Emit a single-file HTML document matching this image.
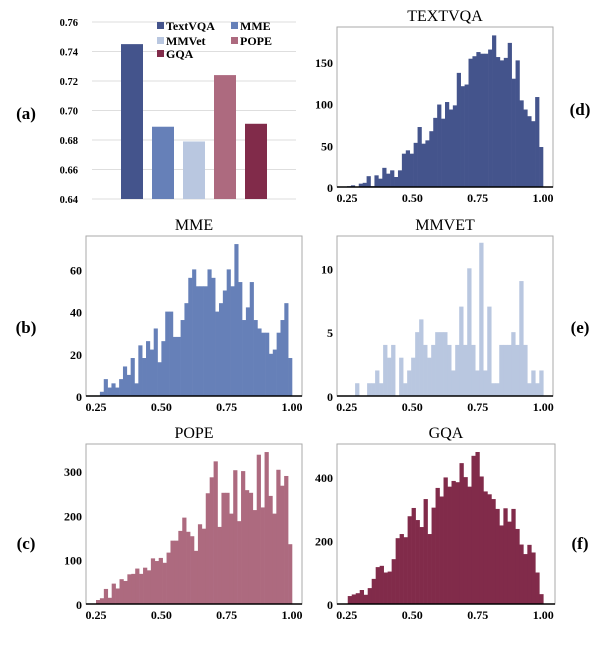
<!DOCTYPE html>
<html><head><meta charset="utf-8"><style>
body{margin:0;background:#fff;}
svg{display:block;font-family:"Liberation Serif",serif;}
.tk{font-size:12px;font-weight:bold;fill:#000;}
.tks{font-size:10.5px;font-weight:bold;fill:#000;}
.tt{font-size:16px;fill:#000;}
.pl{font-size:17px;font-weight:bold;fill:#000;}
</style></head><body>
<svg id="c" width="608" height="660" viewBox="0 0 608 660"></svg>
<script>
const barCats=["TextVQA","MME","MMVet","POPE","GQA"];
const barVals=[0.745,0.689,0.679,0.724,0.691];
const barTicks=[0.64,0.66,0.68,0.70,0.72,0.74,0.76];
const colors=["#44548c","#6680b8","#b9c7e0","#ad6a7f","#812b4a"];
const xTicks=[0.25,0.50,0.75,1.00];
const textvqaCounts=[1,2,0,4,5,13,1,14,10,23,16,20,12,20,40,44,40,53,72,52,56,67,83,99,82,102,93,98,137,121,123,154,157,162,160,160,165,182,156,152,155,173,130,152,104,93,85,79,108,48];
const textvqaRange=[0.25,1.0];
const textvqaYTicks=[0,50,100,150];
const mmeCounts=[2,8,4,6,4,8,14,10,18,6,24,18,26,22,32,16,26,40,40,28,28,36,44,56,60,52,52,52,60,56,40,44,50,60,52,72,54,36,42,54,36,32,30,30,20,22,30,36,44,18];
const mmeRange=[0.265,1.0];
const mmeYTicks=[0,20,40,60];
const mmvetCounts=[1,0,0,1,1,2,1,4,3,4,0,3,1,2,3,5,6,4,3,4,5,5,5,4,2,4,7,4,10,4,2,12,2,7,1,1,4,4,4,5,4,9,4,1,2,1,2];
const mmvetRange=[0.282,1.0];
const mmvetYTicks=[0,5,10];
const popeCounts=[9,13,34,14,46,35,56,52,67,68,80,68,82,76,103,97,104,93,116,143,143,165,195,163,153,120,180,170,250,286,322,174,251,251,204,302,187,300,257,251,212,337,218,343,244,204,303,267,289,135];
const popeRange=[0.25,1.0];
const popeYTicks=[0,100,200,300];
const gqaCounts=[25,30,34,44,29,50,79,116,120,99,102,141,207,220,210,276,302,264,242,330,220,303,365,338,398,369,387,383,443,399,369,466,478,401,354,345,330,299,247,301,259,299,236,187,157,186,162,99,31];
const gqaRange=[0.254,1.0];
const gqaYTicks=[0,200,400];

const svg=document.getElementById('c');
const NS="http://www.w3.org/2000/svg";
function mk(tag,attrs,parent){const e=document.createElementNS(NS,tag);for(const k in attrs)e.setAttribute(k,attrs[k]);(parent||svg).appendChild(e);return e;}
function txt(x,y,s,cls,anchor,parent){const t=mk('text',{x:x,y:y,class:cls,'text-anchor':anchor||'middle'},parent);t.textContent=s;return t;}

// Panel a
(function(){
  const g=mk('g',{});
  
  
  const y=v=>199-(v-0.64)/(0.12)*177;
  barTicks.forEach(v=>{
    const l=mk('line',{x1:92,x2:296,y1:y(v),y2:y(v),stroke:'#dedede','stroke-width':1},g);
    
    
    const t=txt(78,y(v)+4,v.toFixed(2),'tks','end',g);
    
    
  });
  const x0=121,step=31,w=22;
  barVals.forEach((v,i)=>{
    const r=mk('rect',{x:x0+i*step,y:y(v),width:w,height:y(0.64)-y(v),fill:colors[i]},g);
    
    
  });
  const lx=[157,231],ly=[27,42,55];
  barCats.forEach((c,i)=>{
    const cx=lx[i%2],cy=ly[Math.floor(i/2)];
    const r=mk('rect',{x:cx,y:cy-5,width:7,height:7,fill:colors[i]},g);
    
    
    const t=txt(cx+9,cy+3,c,'tk','start',g);
    
    
  });
})();

function hist(name,title,counts,range,yTicks,color,box,pScale){
  const [L,R,T,B]=box;
  const g=mk('g',{});
  
  
  const xs=v=>pScale[0]+(v-0.25)/0.75*(pScale[1]-pScale[0]);
  const ys=c=>B-c*pScale[2];
  const bw=(range[1]-range[0])/counts.length;
  counts.forEach((c,i)=>{
    const xa=xs(range[0]+i*bw),xb=xs(range[0]+(i+1)*bw);
    const r=mk('rect',{x:xa,y:ys(c),width:xb-xa+0.3,height:B-ys(c),fill:color},g);
    
    
  });
  const f=mk('rect',{x:L,y:T,width:R-L,height:B-T,fill:'none',stroke:'#aaa','stroke-width':1},g);
  
  
  const ax=mk('line',{x1:L,x2:R,y1:B,y2:B,stroke:'#000','stroke-width':1.5},g);
  
  
  xTicks.forEach(v=>{
    const t=txt(xs(v),B+15,v.toFixed(2),'tk','middle',g);
    
    
  });
  yTicks.forEach(v=>{
    const t=txt(L-4,ys(v)+5,String(v),'tk','end',g);
    
    
  });
  const tt=txt((L+R)/2,T-6,title,'tt','middle',g);
  
  
}
hist('textvqa','TEXTVQA',textvqaCounts,textvqaRange,textvqaYTicks,colors[0],[337,553,27,187],[347,543,0.833]);
hist('mme','MME',mmeCounts,mmeRange,mmeYTicks,colors[1],[86,302,236,396],[96,292,2.11]);
hist('mmvet','MMVET',mmvetCounts,mmvetRange,mmvetYTicks,colors[2],[337,553,236,396],[346.7,543.3,12.77]);
hist('pope','POPE',popeCounts,popeRange,popeYTicks,colors[3],[86,302,444,604],[96,292,0.443]);
hist('gqa','GQA',gqaCounts,gqaRange,gqaYTicks,colors[4],[337,555,444,604],[346.7,543.3,0.318]);

[["(a)",26,119],["(d)",580,115],["(b)",26,333],["(e)",580,333],["(c)",26,549],["(f)",580,549]].forEach(p=>{
  const t=txt(p[1],p[2],p[0],'pl','middle');
  
  
});
</script>
</body></html>
